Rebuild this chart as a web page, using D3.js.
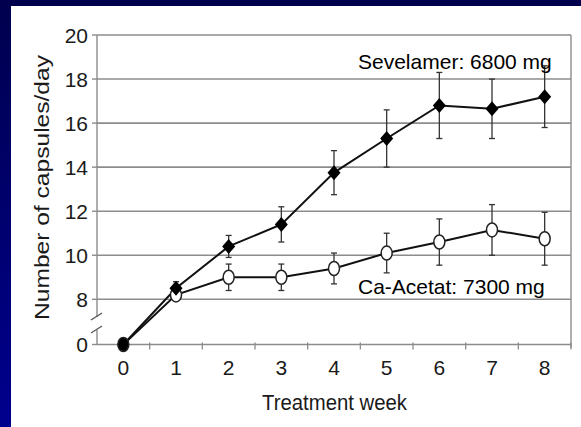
<!DOCTYPE html>
<html>
<head>
<meta charset="utf-8">
<script src="https://cdn.jsdelivr.net/npm/d3@7"></script>
<style>
  html, body { margin: 0; padding: 0; background: #fff; }
  svg { display: block; font-family: "Liberation Sans", Arial, sans-serif; }
</style>
</head>
<body>
<div id="chart"></div>
<script>
var width = 581;
var height = 427;

// data
var weeks = [0, 1, 2, 3, 4, 5, 6, 7, 8];
var sevelamer = [0, 8.5, 10.4, 11.4, 13.75, 15.3, 16.8, 16.65, 17.2];
var sevelamerErr = [0, 0.3, 0.5, 0.8, 1.0, 1.3, 1.5, 1.35, 1.4];
var acetat = [0, 8.2, 9.0, 9.0, 9.4, 10.1, 10.6, 11.15, 10.75];
var acetatErr = [0, 0, 0.6, 0.6, 0.7, 0.9, 1.05, 1.15, 1.2];
var yTicks = [0, 8, 10, 12, 14, 16, 18, 20];
var gridValues = [8, 10, 12, 14, 16, 18, 20];

// (window.top is reserved, so plot* names)
var plotLeft = 97, plotRight = 571, plotTop = 35, plotBottom = 344.5;

// broken axis: 0 sits one step below 8
var x = d3.scaleLinear().domain([-0.5, 8.5]).range([plotLeft, plotRight]);
var y = d3.scaleLinear().domain([0, 8, 20]).range([plotBottom, 299.3, plotTop]);

var svg = d3.select("#chart").append("svg")
    .attr("width", width)
    .attr("height", height);

var defs = svg.append("defs");
var grad = defs.append("linearGradient")
    .attr("id", "bg")
    .attr("x1", 0).attr("y1", 0).attr("x2", 0).attr("y2", 1);
grad.append("stop").attr("offset", "0%").attr("stop-color", "#00004e");
grad.append("stop").attr("offset", "100%").attr("stop-color", "#00008e");

svg.append("rect").attr("width", width).attr("height", height).attr("fill", "url(#bg)");
svg.append("rect").attr("x", 11).attr("y", 6).attr("width", width - 11).attr("height", height - 6).attr("fill", "#fff");

// grid
svg.append("g")
  .selectAll("line")
  .data(gridValues)
  .join("line")
    .attr("x1", plotLeft).attr("x2", plotRight)
    .attr("y1", d => y(d)).attr("y2", d => y(d))
    .attr("stroke", "#8c8c8c")
    .attr("stroke-width", 1.6);

var axisCol = "#8c8c8c";

// frame right + x axis
svg.append("line")
    .attr("x1", plotRight).attr("x2", plotRight).attr("y1", plotTop).attr("y2", plotBottom + 3)
    .attr("stroke", axisCol).attr("stroke-width", 1.4);
svg.append("line")
    .attr("x1", plotLeft).attr("x2", plotRight).attr("y1", y(0)).attr("y2", y(0))
    .attr("stroke", axisCol).attr("stroke-width", 1.6);

// y axis with break
svg.append("line")
    .attr("x1", plotLeft).attr("x2", plotLeft).attr("y1", plotTop).attr("y2", 317)
    .attr("stroke", axisCol).attr("stroke-width", 1.4);
svg.append("line")
    .attr("x1", plotLeft).attr("x2", plotLeft).attr("y1", 330).attr("y2", plotBottom)
    .attr("stroke", axisCol).attr("stroke-width", 1.4);
svg.append("g")
  .selectAll("line")
  .data([320, 333])
  .join("line")
    .attr("x1", 91).attr("y1", d => d)
    .attr("x2", 102).attr("y2", d => d - 7)
    .attr("stroke", "#555").attr("stroke-width", 1.3);

svg.append("g")
  .selectAll("line")
  .data(yTicks)
  .join("line")
    .attr("x1", plotLeft - 5).attr("x2", plotLeft)
    .attr("y1", d => y(d)).attr("y2", d => y(d))
    .attr("stroke", axisCol).attr("stroke-width", 1.4);

svg.append("g")
    .attr("font-size", 21)
    .attr("fill", "#1a1a1a")
    .attr("text-anchor", "end")
  .selectAll("text")
  .data(yTicks)
  .join("text")
    .attr("x", 88)
    .attr("y", d => y(d))
    .attr("dy", "0.36em")
    .text(d => d);

// x ticks between weeks
svg.append("g")
  .selectAll("line")
  .data(weeks.map(d => d + 0.5))
  .join("line")
    .attr("x1", d => x(d)).attr("x2", d => x(d))
    .attr("y1", y(0) - 2).attr("y2", y(0) + 5)
    .attr("stroke", axisCol).attr("stroke-width", 1.3);

svg.append("g")
    .attr("font-size", 21)
    .attr("fill", "#1a1a1a")
    .attr("text-anchor", "middle")
  .selectAll("text")
  .data(weeks)
  .join("text")
    .attr("x", d => x(d))
    .attr("y", 375)
    .text(d => d);

// axis titles
svg.append("text")
    .attr("x", 262).attr("y", 410)
    .attr("font-size", 22)
    .attr("fill", "#1a1a1a")
    .attr("textLength", 145)
    .attr("lengthAdjust", "spacingAndGlyphs")
    .text("Treatment week");

svg.append("text")
    .attr("transform", "translate(48.5,320) rotate(-90)")
    .attr("font-size", 21)
    .attr("fill", "#1a1a1a")
    .attr("textLength", 265)
    .attr("lengthAdjust", "spacingAndGlyphs")
    .text("Number of capsules/day");

// series
var sevData = weeks.map((w, i) => ({week: w, value: sevelamer[i], err: sevelamerErr[i]}));
var acData = weeks.map((w, i) => ({week: w, value: acetat[i], err: acetatErr[i]}));

var line = d3.line().x(d => x(d.week)).y(d => y(d.value));

function errorBars(data) {
  var g = svg.append("g")
      .attr("stroke", "#333")
      .attr("stroke-width", 1.3);
  var bars = data.filter(d => d.err > 0);
  g.selectAll("line.v").data(bars).join("line")
      .attr("class", "v")
      .attr("x1", d => x(d.week)).attr("x2", d => x(d.week))
      .attr("y1", d => y(d.value + d.err)).attr("y2", d => y(d.value - d.err));
  g.selectAll("line.t").data(bars).join("line")
      .attr("class", "t")
      .attr("x1", d => x(d.week) - 3).attr("x2", d => x(d.week) + 3)
      .attr("y1", d => y(d.value + d.err)).attr("y2", d => y(d.value + d.err));
  g.selectAll("line.b").data(bars).join("line")
      .attr("class", "b")
      .attr("x1", d => x(d.week) - 3).attr("x2", d => x(d.week) + 3)
      .attr("y1", d => y(d.value - d.err)).attr("y2", d => y(d.value - d.err));
}

errorBars(acData);
errorBars(sevData);

svg.append("path")
    .datum(acData)
    .attr("fill", "none")
    .attr("stroke", "#111")
    .attr("stroke-width", 2)
    .attr("d", line);

svg.append("path")
    .datum(sevData)
    .attr("fill", "none")
    .attr("stroke", "#111")
    .attr("stroke-width", 2)
    .attr("d", line);

svg.append("g")
  .selectAll("ellipse")
  .data(acData)
  .join("ellipse")
    .attr("cx", d => x(d.week))
    .attr("cy", d => y(d.value))
    .attr("rx", 5.5)
    .attr("ry", 7)
    .attr("fill", d => d.week === 0 ? "#000" : "#fff")
    .attr("stroke", "#222")
    .attr("stroke-width", 1.5);

svg.append("g")
  .selectAll("path")
  .data(sevData.filter(d => d.week > 0))
  .join("path")
    .attr("transform", d => `translate(${x(d.week)},${y(d.value)})`)
    .attr("d", "M0,-7.5L6.5,0L0,7.5L-6.5,0Z")
    .attr("fill", "#000");

// labels
svg.append("text")
    .attr("x", 358).attr("y", 68.5)
    .attr("font-size", 21)
    .attr("fill", "#000")
    .text("Sevelamer: 6800 mg");

svg.append("text")
    .attr("x", 358).attr("y", 294)
    .attr("font-size", 21)
    .attr("fill", "#000")
    .text("Ca-Acetat: 7300 mg");
</script>
</body>
</html>
